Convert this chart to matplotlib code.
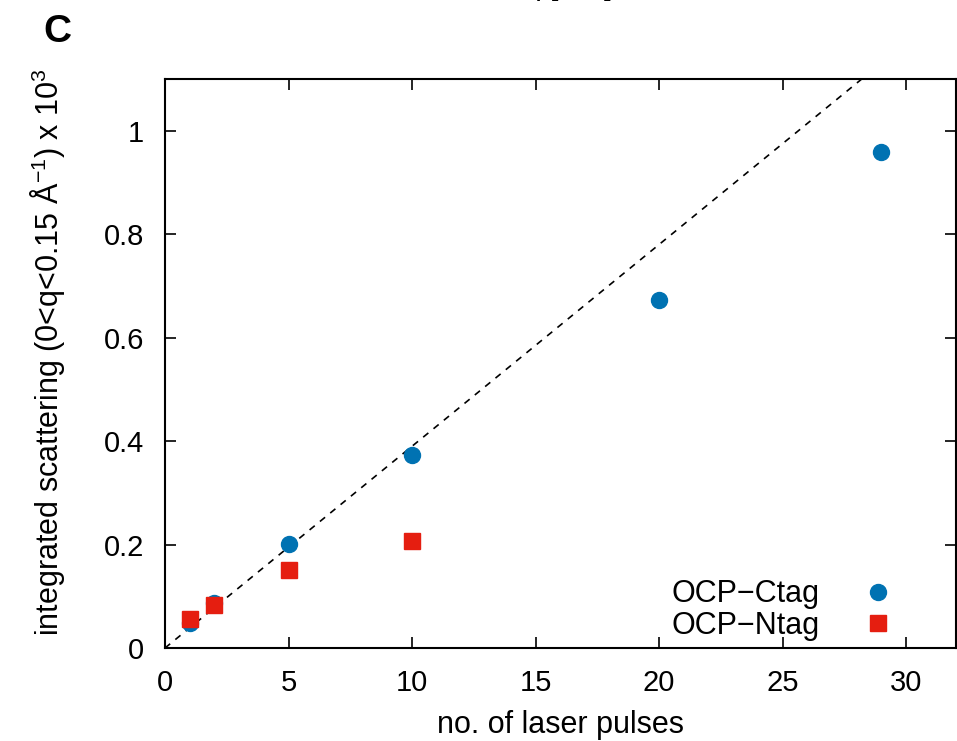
import matplotlib
matplotlib.use("Agg")
import matplotlib.pyplot as plt
import numpy as np

plt.rcParams['font.family'] = ['Liberation Sans', 'DejaVu Sans']
plt.rcParams['mathtext.fontset'] = 'custom'
plt.rcParams['mathtext.rm'] = 'Liberation Sans'
plt.rcParams['mathtext.it'] = 'Liberation Sans:italic'
plt.rcParams['mathtext.bf'] = 'Liberation Sans:bold'

# Data
ctag_pulses = [1, 2, 5, 10, 20, 29]
ctag_values = [0.048, 0.087, 0.202, 0.373, 0.672, 0.959]
ntag_pulses = [1, 2, 5, 10]
ntag_values = [0.056, 0.083, 0.150, 0.206]
fit_slope = 0.039
x_ticks = [0, 5, 10, 15, 20, 25, 30]
y_ticks = [0, 0.2, 0.4, 0.6, 0.8, 1.0]
y_ticklabels = ['0', '0.2', '0.4', '0.6', '0.8', '1']

blue = '#0072b2'
red = '#e51e10'

fig = plt.figure(figsize=(9.57, 7.41), dpi=100)
ax = fig.add_axes([165/957, 1-648/741, (955.5-165)/957, (648-79)/741])

xs = np.array([0, 32])
ax.plot(xs, fit_slope*xs, color='black', linestyle=(0, (4, 4)), linewidth=1.2, zorder=1)

ax.plot(ctag_pulses, ctag_values, linestyle='none', marker='o', markersize=11.5,
        color=blue, label='OCP\u2212Ctag', zorder=3)
ax.plot(ntag_pulses, ntag_values, linestyle='none', marker='s', markersize=11.5,
        color=red, label='OCP\u2212Ntag', zorder=4)

ax.set_xlim(0, 32)
ax.set_ylim(0, 1.1)
ax.set_xticks(x_ticks)
ax.set_yticks(y_ticks)
ax.set_yticklabels(y_ticklabels)
ax.tick_params(direction='in', length=8, width=1.2, top=True, right=True,
               labelsize=21, pad=15)
for s in ax.spines.values():
    s.set_linewidth(1.5)

ax.set_xlabel('no. of laser pulses', fontsize=22, labelpad=9.5)
ax.set_ylabel(r'integrated scattering (0<q<0.15 $\mathregular{\AA^{-1}}$) x 10$^{3}$',
              fontsize=22)
ax.yaxis.set_label_coords(-0.124, 0.52)

leg = ax.legend(loc='lower right', markerfirst=False, frameon=False, fontsize=22,
                handletextpad=0.9, labelspacing=0.05, borderaxespad=0.0,
                bbox_to_anchor=(0.956, -0.009))

fig.text(57/957, 1-32/741, 'C', fontsize=28, fontweight='bold', ha='center', va='center')
fig.text(568/957, 1+6/741, r'q [$\mathregular{\AA^{-1}}$]', fontsize=22, ha='center', va='baseline')

fig.savefig('out.png', dpi=100)
